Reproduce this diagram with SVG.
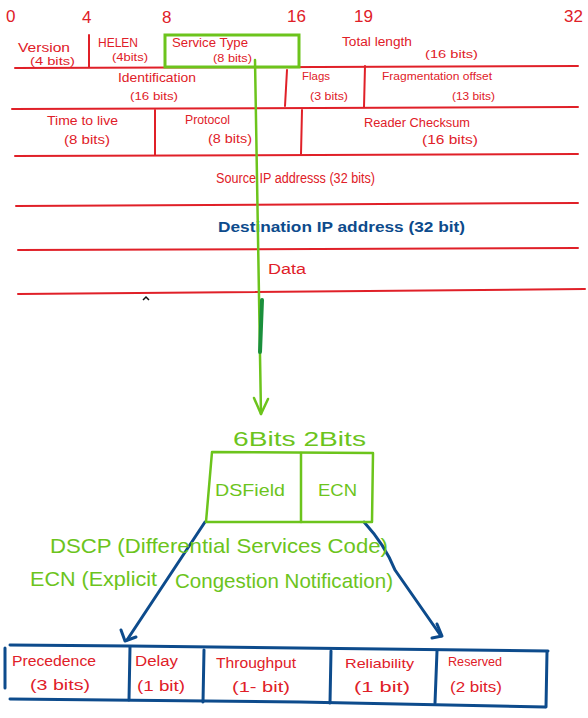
<svg xmlns="http://www.w3.org/2000/svg" width="588" height="718" viewBox="0 0 588 718">
<style>
.r{fill:#e02028;font-family:"Liberation Sans",sans-serif;}
.rl{stroke:#e02028;stroke-width:2;fill:none;stroke-linecap:round;}
.g{fill:#6cc41c;font-family:"Liberation Sans",sans-serif;}
.gl{stroke:#6cc41c;stroke-width:2.5;fill:none;stroke-linecap:round;stroke-linejoin:round;}
.b{fill:#0d4b8c;font-family:"Liberation Sans",sans-serif;}
.bl{stroke:#0d4b8c;stroke-width:3;fill:none;stroke-linecap:round;stroke-linejoin:round;}
.t12{font-size:12px;}
.t11{font-size:11px;}
</style>
<rect width="588" height="718" fill="#ffffff"/>

<g id="bit-scale" class="r" font-size="17">
<text x="6" y="22">0</text>
<text x="82" y="23">4</text>
<text x="162" y="23">8</text>
<text x="287" y="22">16</text>
<text x="354" y="22">19</text>
<text x="564" y="22">32</text>
</g>

<g id="ip-header-grid">
<line class="rl" x1="15" y1="68" x2="578" y2="66"/>
<line class="rl" x1="89" y1="35" x2="89" y2="67"/>
<line class="rl" x1="12" y1="109" x2="578" y2="107"/>
<line class="rl" x1="287" y1="70" x2="285" y2="106"/>
<line class="rl" x1="365" y1="66" x2="364" y2="107"/>
<line class="rl" x1="15" y1="156" x2="578" y2="154"/>
<line class="rl" x1="155" y1="110" x2="155" y2="155"/>
<line class="rl" x1="302" y1="110" x2="301" y2="154"/>
<line class="rl" x1="16" y1="206" x2="578" y2="203"/>
<line class="rl" x1="18" y1="250" x2="578" y2="248"/>
<line class="rl" x1="18" y1="294" x2="585" y2="289"/>
</g>

<g id="field-version">
<text class="r t12" x="18" y="52" textLength="52" lengthAdjust="spacingAndGlyphs">Version</text>
<text class="r" x="30" y="65" font-size="10" textLength="45" lengthAdjust="spacingAndGlyphs">(4 bits)</text>
</g>
<g id="field-hlen">
<text class="r t12" x="98" y="47" textLength="40" lengthAdjust="spacingAndGlyphs">HELEN</text>
<text class="r t11" x="112" y="61" textLength="36" lengthAdjust="spacingAndGlyphs">(4bits)</text>
</g>
<g id="field-service-type">
<rect x="165" y="35" width="134" height="32" fill="none" stroke="#6cc41c" stroke-width="3"/>
<text class="r t12" x="172" y="47" textLength="76" lengthAdjust="spacingAndGlyphs">Service Type</text>
<text class="r t11" x="213" y="62" textLength="39" lengthAdjust="spacingAndGlyphs">(8 bits)</text>
</g>
<g id="field-total-length">
<text class="r t12" x="342" y="46" textLength="70" lengthAdjust="spacingAndGlyphs">Total length</text>
<text class="r t11" x="425" y="58" textLength="53" lengthAdjust="spacingAndGlyphs">(16 bits)</text>
</g>
<g id="field-identification">
<text class="r t12" x="118" y="82" textLength="78" lengthAdjust="spacingAndGlyphs">Identification</text>
<text class="r t11" x="130" y="100" textLength="48" lengthAdjust="spacingAndGlyphs">(16 bits)</text>
</g>
<g id="field-flags">
<text class="r t11" x="302" y="80" textLength="28" lengthAdjust="spacingAndGlyphs">Flags</text>
<text class="r t11" x="310" y="100" textLength="38" lengthAdjust="spacingAndGlyphs">(3 bits)</text>
</g>
<g id="field-fragment-offset">
<text class="r t11" x="382" y="80" textLength="110" lengthAdjust="spacingAndGlyphs">Fragmentation offset</text>
<text class="r t11" x="452" y="100" textLength="43" lengthAdjust="spacingAndGlyphs">(13 bits)</text>
</g>
<g id="field-ttl">
<text class="r t12" x="47" y="125" textLength="71" lengthAdjust="spacingAndGlyphs">Time to live</text>
<text class="r t12" x="64" y="144" textLength="46" lengthAdjust="spacingAndGlyphs">(8 bits)</text>
</g>
<g id="field-protocol">
<text class="r t12" x="185" y="124" textLength="45" lengthAdjust="spacingAndGlyphs">Protocol</text>
<text class="r t12" x="208" y="143" textLength="44" lengthAdjust="spacingAndGlyphs">(8 bits)</text>
</g>
<g id="field-checksum">
<text class="r t12" x="364" y="127" textLength="106" lengthAdjust="spacingAndGlyphs">Reader Checksum</text>
<text class="r t12" x="422" y="144" textLength="56" lengthAdjust="spacingAndGlyphs">(16 bits)</text>
</g>
<g id="field-source-ip">
<text class="r" x="216" y="183" font-size="14" textLength="159" lengthAdjust="spacingAndGlyphs">Source IP addresss (32 bits)</text>
</g>
<g id="field-destination-ip">
<text class="b" x="218" y="232" font-size="15" font-weight="bold" textLength="247" lengthAdjust="spacingAndGlyphs">Destination IP address (32 bit)</text>
</g>
<g id="field-data">
<text class="r" x="268" y="274" font-size="14" textLength="38" lengthAdjust="spacingAndGlyphs">Data</text>
</g>
<path id="stray-mark" d="M143 300 L146 297 L149 300" stroke="#111" stroke-width="1.5" fill="none"/>

<g id="connectors">
<line class="gl" x1="255" y1="60" x2="261" y2="414" stroke-width="2"/>
<line x1="262" y1="300" x2="260" y2="352" stroke="#1a8f3c" stroke-width="4" stroke-linecap="round"/>
<path class="gl" d="M254 398 L261 414 L268 399" stroke-width="3"/>
<path class="bl" d="M205 522 L127 640" stroke-width="2.5"/>
<path class="bl" d="M121 630 L125 641 L136 637"/>
<path class="bl" d="M364 522 Q385 545 395 570 L441 636" stroke-width="2.5"/>
<path class="bl" d="M437 624 L442 636 L432 638"/>
</g>

<g id="tos-byte">
<text class="g" x="233" y="446" font-size="20" textLength="133" lengthAdjust="spacingAndGlyphs">6Bits 2Bits</text>
<path class="gl" d="M212 452 L373 453 L372 522 L206 522 Z"/>
<line class="gl" x1="301" y1="453" x2="301" y2="522"/>
<text class="g" x="215" y="496" font-size="17" textLength="70" lengthAdjust="spacingAndGlyphs">DSField</text>
<text class="g" x="318" y="496" font-size="17" textLength="39" lengthAdjust="spacingAndGlyphs">ECN</text>
</g>

<g id="tos-legend">
<text class="g" x="50" y="553" font-size="21" textLength="338" lengthAdjust="spacingAndGlyphs">DSCP (Differential Services Code)</text>
<text class="g" x="30" y="586" font-size="21" textLength="127" lengthAdjust="spacingAndGlyphs">ECN (Explicit</text>
<text class="g" x="175" y="588" font-size="21" textLength="218" lengthAdjust="spacingAndGlyphs">Congestion Notification)</text>
</g>

<g id="tos-table">
<path class="bl" d="M10 645 L130 646 L548 651"/>
<path class="bl" d="M10 699 L300 702 L545 707"/>
<line class="bl" x1="5" y1="648" x2="5" y2="688"/>
<line class="bl" x1="130" y1="647" x2="129" y2="700"/>
<line class="bl" x1="204" y1="650" x2="203" y2="702"/>
<line class="bl" x1="331" y1="651" x2="330" y2="703"/>
<line class="bl" x1="437" y1="651" x2="435" y2="703"/>
<line class="bl" x1="547" y1="652" x2="546" y2="707"/>
</g>
<g id="bit-precedence">
<text class="r" x="12" y="666" font-size="14" textLength="84" lengthAdjust="spacingAndGlyphs">Precedence</text>
<text class="r" x="30" y="690" font-size="14" textLength="60" lengthAdjust="spacingAndGlyphs">(3 bits)</text>
</g>
<g id="bit-delay">
<text class="r" x="135" y="666" font-size="14" textLength="43" lengthAdjust="spacingAndGlyphs">Delay</text>
<text class="r" x="137" y="691" font-size="14" textLength="48" lengthAdjust="spacingAndGlyphs">(1 bit)</text>
</g>
<g id="bit-throughput">
<text class="r" x="216" y="668" font-size="14" textLength="80" lengthAdjust="spacingAndGlyphs">Throughput</text>
<text class="r" x="232" y="692" font-size="14" textLength="58" lengthAdjust="spacingAndGlyphs">(1- bit)</text>
</g>
<g id="bit-reliability">
<text class="r" x="345" y="668" font-size="13" textLength="69" lengthAdjust="spacingAndGlyphs">Reliability</text>
<text class="r" x="354" y="692" font-size="14" textLength="56" lengthAdjust="spacingAndGlyphs">(1 bit)</text>
</g>
<g id="bit-reserved">
<text class="r" x="448" y="666" font-size="13" textLength="54" lengthAdjust="spacingAndGlyphs">Reserved</text>
<text class="r" x="450" y="692" font-size="14" textLength="52" lengthAdjust="spacingAndGlyphs">(2 bits)</text>
</g>
</svg>
